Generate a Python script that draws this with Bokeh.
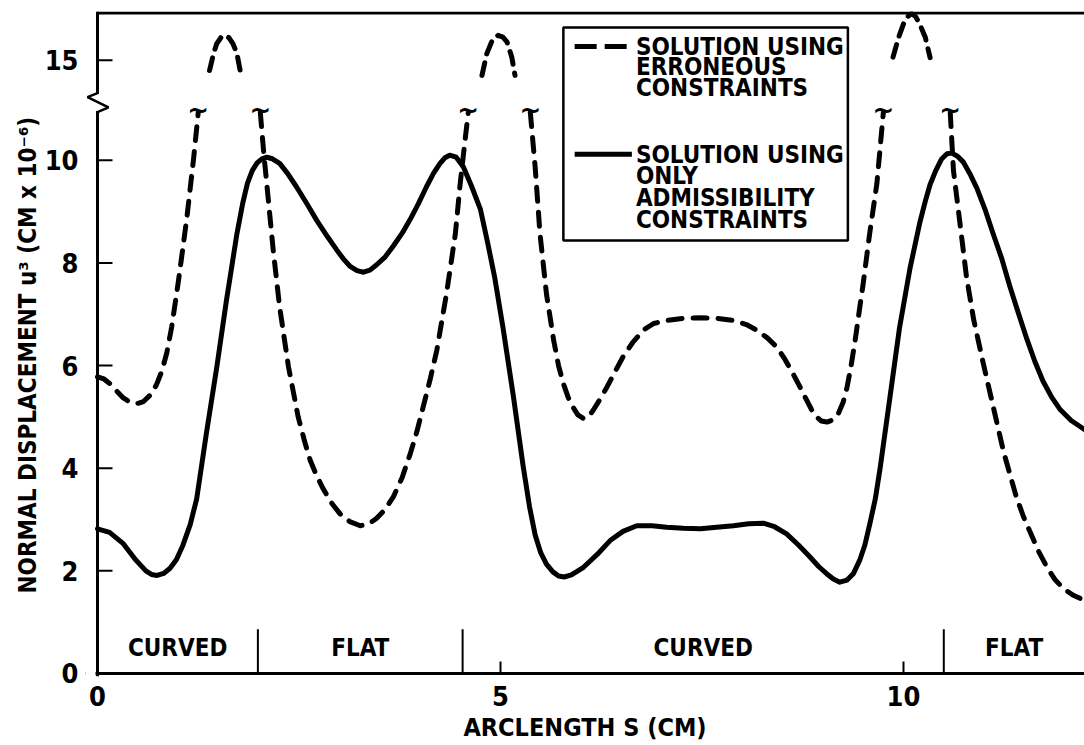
from bokeh.plotting import figure
from bokeh.models import BoxAnnotation, Label, PolyAnnotation, FixedTicker, Title, Span
from bokeh.core.properties import value
from bokeh.embed import file_html
from bokeh.resources import INLINE

# ---------------- data ----------------
# admissibility-constraint solution (solid)
S_SOLID = [0.00, 0.15, 0.32, 0.47, 0.60, 0.67, 0.74, 0.82, 0.90, 0.98, 1.06, 1.15, 1.23, 1.35,
           1.48, 1.60, 1.73, 1.80, 1.86, 1.92, 1.98, 2.04, 2.10, 2.17, 2.26, 2.36, 2.47, 2.60,
           2.72, 2.85, 2.97, 3.05, 3.13, 3.22, 3.30, 3.38, 3.46, 3.57, 3.67, 3.78, 3.88, 3.98,
           4.08, 4.17, 4.25, 4.31, 4.37, 4.45, 4.54, 4.64, 4.75, 4.84, 4.93, 5.03, 5.16, 5.28,
           5.36, 5.43, 5.50, 5.57, 5.65, 5.72, 5.79, 5.88, 6.03, 6.20, 6.36, 6.52, 6.69, 6.88,
           7.06, 7.27, 7.48, 7.68, 7.89, 8.08, 8.26, 8.40, 8.55, 8.70, 8.84, 8.95, 9.05, 9.13,
           9.21, 9.30, 9.38, 9.46, 9.52, 9.58, 9.65, 9.71, 9.83, 9.95, 10.08, 10.20, 10.27,
           10.33, 10.40, 10.47, 10.54, 10.60, 10.67, 10.74, 10.82, 10.91, 11.01, 11.11, 11.22,
           11.32, 11.43, 11.53, 11.63, 11.73, 11.84, 11.94, 12.08, 12.25]
U_SOLID = [2.82, 2.75, 2.53, 2.22, 2.00, 1.93, 1.91, 1.95, 2.05, 2.22, 2.50, 2.90, 3.40, 4.67,
           5.97, 7.27, 8.57, 9.15, 9.55, 9.80, 9.95, 10.03, 10.06, 10.03, 9.94, 9.74, 9.48, 9.15,
           8.83, 8.52, 8.25, 8.08, 7.94, 7.85, 7.82, 7.86, 7.96, 8.12, 8.33, 8.58, 8.85, 9.15,
           9.48, 9.75, 9.94, 10.05, 10.10, 10.06, 9.87, 9.50, 9.05, 8.40, 7.70, 6.75, 5.40, 4.05,
           3.25, 2.70, 2.35, 2.13, 1.98, 1.90, 1.88, 1.92, 2.07, 2.32, 2.59, 2.77, 2.88, 2.88,
           2.85, 2.83, 2.82, 2.85, 2.88, 2.92, 2.93, 2.86, 2.72, 2.50, 2.27, 2.08, 1.94, 1.84,
           1.78, 1.82, 1.95, 2.22, 2.50, 2.90, 3.40, 4.00, 5.36, 6.73, 7.89, 8.77, 9.20,
           9.53, 9.80, 10.02, 10.13, 10.14, 10.08, 9.97, 9.75, 9.46, 9.05, 8.58, 8.08,
           7.54, 7.00, 6.52, 6.08, 5.70, 5.38, 5.15, 4.93, 4.75]

# erroneous-constraint solution (dashed), lower part, in four pieces
S_DASH_A = [0.00, 0.08, 0.16, 0.24, 0.32, 0.40, 0.49, 0.57, 0.65, 0.73, 0.80, 0.86, 0.92,
            1.00, 1.06, 1.11, 1.19, 1.25]
U_DASH_A = [5.78, 5.74, 5.64, 5.50, 5.37, 5.29, 5.26, 5.30, 5.42, 5.62, 5.90, 6.25, 6.75,
            7.60, 8.30, 8.90, 10.00, 10.93]
S_DASH_B = [2.02, 2.06, 2.12, 2.18, 2.26, 2.37, 2.49, 2.57, 2.64, 2.72, 2.80, 2.90, 3.01,
            3.13, 3.26, 3.36, 3.46, 3.57, 3.67, 3.78, 3.88, 3.96, 4.04, 4.13, 4.21, 4.33,
            4.44, 4.50, 4.56, 4.60]
U_DASH_B = [10.93, 10.19, 9.22, 8.25, 7.14, 5.97, 5.00, 4.52, 4.15, 3.85, 3.60, 3.33, 3.11,
            2.96, 2.88, 2.91, 3.02, 3.20, 3.44, 3.82, 4.28, 4.70, 5.19, 5.75, 6.30, 7.40,
            8.57, 9.55, 10.39, 10.93]
S_DASH_C = [5.37, 5.43, 5.49, 5.57, 5.66, 5.72, 5.78, 5.84, 5.90, 5.96, 6.03, 6.09, 6.15,
            6.23, 6.32, 6.42, 6.52, 6.64, 6.77, 6.90, 7.06, 7.27, 7.48, 7.69, 7.89, 8.05,
            8.18, 8.31, 8.43, 8.53, 8.63, 8.72, 8.80, 8.86, 8.92, 8.98, 9.05, 9.12, 9.19,
            9.25, 9.30, 9.35, 9.40, 9.45, 9.50, 9.58, 9.67, 9.75]
U_DASH_C = [10.93, 9.87, 8.57, 7.40, 6.49, 6.00, 5.65, 5.38, 5.19, 5.04, 4.97, 5.00, 5.13,
            5.33, 5.58, 5.88, 6.17, 6.45, 6.69, 6.82, 6.88, 6.92, 6.93, 6.92, 6.88, 6.80,
            6.69, 6.54, 6.36, 6.12, 5.84, 5.57, 5.32, 5.14, 5.00, 4.92, 4.90, 4.94, 5.06,
            5.28, 5.58, 6.00, 6.49, 7.05, 7.60, 8.57, 9.55, 10.93]
S_DASH_D = [10.58, 10.62, 10.70, 10.78, 10.87, 10.99, 11.11, 11.24, 11.40, 11.49, 11.57,
            11.67, 11.78, 11.88, 11.98, 12.10, 12.25]
U_DASH_D = [10.93, 9.80, 8.78, 7.75, 6.90, 6.04, 5.22, 4.33, 3.44, 3.05, 2.76, 2.40, 2.07,
            1.83, 1.66, 1.53, 1.42]

# dashed peaks drawn above the axis break (true values)
S_ARC_1 = [1.39, 1.44, 1.48, 1.53, 1.58, 1.63, 1.68, 1.73, 1.77]
U_ARC_1 = [14.60, 15.26, 15.65, 15.88, 15.97, 15.88, 15.65, 15.26, 14.60]
S_ARC_2 = [4.77, 4.83, 4.89, 4.93, 4.97, 5.03, 5.08, 5.14, 5.18]
U_ARC_2 = [14.41, 15.26, 15.72, 15.90, 15.97, 15.90, 15.72, 15.12, 14.41]
S_ARC_3 = [9.87, 9.94, 10.00, 10.05, 10.10, 10.15, 10.20, 10.27, 10.33]
U_ARC_3 = [15.12, 15.90, 16.42, 16.70, 16.82, 16.70, 16.42, 15.90, 15.10]

# geometry regions along the arclength
REGION_BOUNDS = [1.99, 4.53, 10.50]
REGION_LABELS = ["CURVED", "FLAT", "CURVED", "FLAT"]

X_TICKS = [0, 5, 10]
Y_TICK_VALUES = [0, 2, 4, 6, 8, 10, 15]
Y_TICK_LABELS = ["0", "2", "4", "6", "8", "10", "15"]

X_TITLE = "ARCLENGTH S (CM)"
Y_TITLE = "NORMAL DISPLACEMENT u³ (CM x 10⁻⁶)"
LEGEND_DASHED = ["SOLUTION USING", "ERRONEOUS", "CONSTRAINTS"]
LEGEND_SOLID = ["SOLUTION USING", "ONLY", "ADMISSIBILITY", "CONSTRAINTS"]

# ---------------- axis break mapping ----------------
BREAK_LOW = 11.0       # values up to here are plotted linearly
Y15 = 11.95            # display position of the "15" tick
UPPER_SCALE = 0.5      # compression above the break


def to_display(v):
    return v if v <= BREAK_LOW else Y15 + (v - 15.0) * UPPER_SCALE


W, H = 1084, 745
PX_X = 80.6            # pixels per x unit
PX_Y = 51.3            # pixels per y unit
X0_PX = 97             # where s = 0 sits
LEFT_PAD = 12          # frame room left of the y axis (for the break mark)
BOT_PAD = 3            # frame room below the x axis
BT = 11
X_END = (W - X0_PX) / PX_X
Y_END = 12.90
XS = LEFT_PAD / PX_X
YS = BOT_PAD / PX_Y
FRAME_H = round((Y_END + YS) * PX_Y)

FONT = "'Liberation Sans Narrow', 'DejaVu Sans Condensed', 'Liberation Sans', sans-serif"

p = figure(width=W, height=H, x_range=(-XS, X_END), y_range=(-YS, Y_END),
           output_backend="svg", toolbar_location=None,
           min_border_left=X0_PX - LEFT_PAD, min_border_right=0, min_border_top=BT,
           min_border_bottom=H - BT - FRAME_H)
p.outline_line_color = None
p.grid.visible = False
p.background_fill_color = "white"
p.border_fill_color = "white"

# curves
p.line(S_SOLID, U_SOLID, line_width=5, color="black", line_join="round", line_cap="round")
DASH = "14 11"
for xs, ys in [(S_DASH_A, U_DASH_A), (S_DASH_B, U_DASH_B), (S_DASH_C, U_DASH_C), (S_DASH_D, U_DASH_D)]:
    p.line(xs, ys, line_width=5, color="black", line_dash=DASH, line_cap="round", line_join="round")
for xs, ys in [(S_ARC_1, U_ARC_1), (S_ARC_2, U_ARC_2), (S_ARC_3, U_ARC_3)]:
    p.line(xs, [to_display(v) for v in ys], line_width=5, color="black",
           line_dash="13 9", line_cap="round", line_join="round")

# curly break marks at the top of each interrupted dashed branch
tx = [S_DASH_A[-1], S_DASH_B[0], S_DASH_B[-1], S_DASH_C[0], S_DASH_C[-1], S_DASH_D[0]]
ty = [U_DASH_A[-1], U_DASH_B[0], U_DASH_B[-1], U_DASH_C[0], U_DASH_C[-1], U_DASH_D[0]]
p.text(x=tx, y=[v + 0.05 for v in ty], text=["~"] * len(tx), text_font=value("DejaVu Sans"),
       text_font_size="26px", text_font_style="bold", text_align="center", text_baseline="middle",
       text_color="black")

# region separators and labels
p.segment(x0=REGION_BOUNDS, y0=[0] * 3, x1=REGION_BOUNDS, y1=[0.86] * 3, line_width=2, color="black")
edges = [0] + REGION_BOUNDS + [X_END]
centers = [(edges[i] + edges[i + 1]) / 2 for i in range(len(REGION_LABELS))]
p.text(x=centers, y=[0.5] * len(centers), text=REGION_LABELS, text_font=value(FONT),
       text_font_size="24px", text_font_style="bold", text_align="center",
       text_baseline="middle", text_color="black")

# ---------------- axes ----------------
xt = FixedTicker(ticks=X_TICKS)
y_pos = [to_display(v) for v in Y_TICK_VALUES]
yt = FixedTicker(ticks=y_pos)

# the side axes carry only the labels; lines and ticks are drawn at s = 0 / u = 0
xa, ya = p.xaxis[0], p.yaxis[0]
for ax in (xa, ya):
    ax.axis_line_color = None
    ax.major_tick_line_color = None
    ax.minor_tick_line_color = None
    ax.major_label_text_font = FONT
    ax.major_label_text_font_size = "27px"
    ax.major_label_text_font_style = "bold"
    ax.major_label_text_color = "black"
xa.ticker = xt
xa.major_label_standoff = 3
xa.axis_label = X_TITLE
xa.axis_label_standoff = 4
xa.axis_label_text_font = FONT
xa.axis_label_text_font_size = "25px"
xa.axis_label_text_font_style = "bold"
xa.axis_label_text_color = "black"
ya.ticker = yt
ya.major_label_standoff = 1
ya.major_label_overrides = {pos: lab for pos, lab in zip(y_pos, Y_TICK_LABELS)}

p.add_layout(Title(text=Y_TITLE, align="left", offset=83, standoff=0, text_font=FONT,
                   text_font_size="24px", text_font_style="bold", text_color="black"), "left")

# axis lines
p.add_layout(Span(location=0, dimension="height", line_color="black", line_width=3))
p.add_layout(Span(location=0, dimension="width", line_color="black", line_width=3))
# inward ticks
p.segment(x0=[0] * len(y_pos), y0=y_pos, x1=[15 / PX_X] * len(y_pos), y1=y_pos,
          line_width=2, color="black")
p.segment(x0=X_TICKS, y0=[0] * len(X_TICKS), x1=X_TICKS, y1=[12 / PX_Y] * len(X_TICKS),
          line_width=2, color="black")

# hide the bit of x axis left of the y axis
p.add_layout(BoxAnnotation(right=-2 / PX_X, top=2 / PX_Y, fill_color="white", fill_alpha=1,
                           line_alpha=0, level="overlay"))
# top frame border
p.add_layout(BoxAnnotation(left=0, bottom=Y_END - 3 / PX_Y, fill_color="black", fill_alpha=1,
                           line_alpha=0))

# axis break zigzag on the y axis
p.add_layout(PolyAnnotation(xs=[0, 0], ys=[11.29, 10.96], line_color="white", line_alpha=1,
                            line_width=6, fill_alpha=0))
zx = [0, -10 / PX_X, 11 / PX_X, 0]
zy = [11.31, 11.23, 11.03, 10.94]
p.add_layout(PolyAnnotation(xs=zx + zx[-2:0:-1], ys=zy + zy[-2:0:-1], line_color="black",
                            line_alpha=1, line_width=2.5, fill_alpha=0))

# legend box
p.add_layout(BoxAnnotation(left=5.78, right=9.31, top=12.59, bottom=8.44, fill_alpha=0,
                           line_color="black", line_alpha=1, line_width=2.5))
p.line([5.92, 6.63], [12.22, 12.22], line_width=5, color="black", line_dash="22 8")
p.line([5.92, 6.63], [10.12, 10.12], line_width=5, color="black")
for txt, yy in zip(LEGEND_DASHED, [12.21, 11.81, 11.40]):
    p.add_layout(Label(x=6.68, y=yy, text=txt, text_font=FONT, text_font_size="24px",
                       text_font_style="bold", text_baseline="alphabetic", text_color="black"))
for txt, yy in zip(LEGEND_SOLID, [10.10, 9.69, 9.27, 8.84]):
    p.add_layout(Label(x=6.68, y=yy, text=txt, text_font=FONT, text_font_size="24px",
                       text_font_style="bold", text_baseline="alphabetic", text_color="black"))

open("out.html", "w").write(file_html(p, INLINE))
